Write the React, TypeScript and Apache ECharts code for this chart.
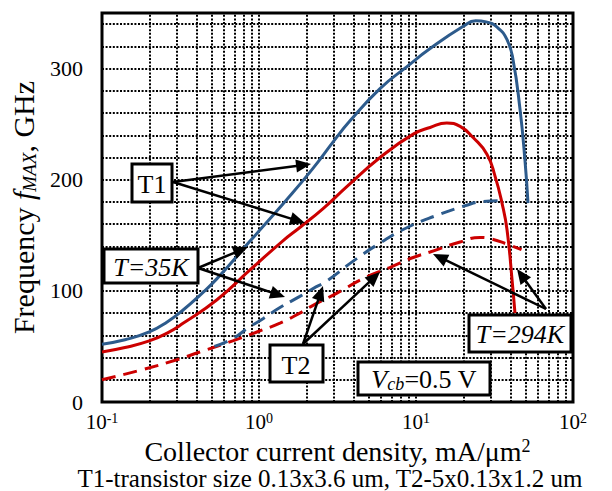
import React, { useEffect, useRef } from 'react';
import * as echarts from 'echarts';

// T1, T = 35 K (blue solid)
const t1Cold: [number, number][] = [
  [0.1, 52], [0.14, 56], [0.2, 63], [0.26, 72], [0.33, 83], [0.42, 96], [0.54, 111],
  [0.88, 145], [1.5, 182], [2.2, 210], [3.0, 235], [3.8, 253], [5.9, 282], [8.8, 302],
  [12.3, 318], [20, 338], [24, 343], [28, 342], [33, 337], [38, 326], [41.5, 308],
  [46, 263], [49.4, 218], [51.7, 179],
];
// T1, T = 294 K (red solid)
const t1Hot: [number, number][] = [
  [0.1, 45], [0.14, 49], [0.2, 55], [0.26, 62], [0.33, 71], [0.54, 92], [0.88, 119],
  [1.42, 145], [1.82, 157], [2.56, 174], [3.64, 194], [5.9, 220], [9.6, 241], [12.3, 247],
  [15.7, 251], [19.1, 248], [23.1, 238], [28.3, 223], [31.9, 203], [35.3, 179], [38, 155],
  [40.9, 110], [42.7, 80],
];
// T2, T = 35 K (blue dashed)
const t2Cold: [number, number][] = [
  [0.52, 50], [0.68, 57], [0.84, 66], [1.06, 75], [1.36, 85], [1.82, 95], [2.21, 102],
  [2.71, 109], [4.0, 127], [5.9, 143], [8.8, 157], [13.6, 168], [21, 177], [25.6, 180], [34, 181],
];
// T2, T = 294 K (red dashed)
const t2Hot: [number, number][] = [
  [0.1, 20], [0.18, 29], [0.3, 38], [0.42, 45], [0.68, 55], [0.97, 63], [1.36, 71],
  [1.82, 80], [2.21, 87], [3.14, 98], [4.6, 111], [6.8, 121], [9.6, 130], [12.3, 135],
  [19.1, 144], [25.6, 148], [29.6, 147], [38, 142], [47, 137],
];

const xGridValues = [
  0.2, 0.3, 0.4, 0.5, 0.6, 0.7, 0.8, 0.9, 1, 2, 3, 4, 5, 6, 7, 8, 9, 10,
  20, 30, 40, 50, 60, 70, 80, 90,
];
const yLabelValues = [0, 100, 200, 300];

const FONT = '"Liberation Serif", "Times New Roman", "DejaVu Serif", serif';
const BLUE = '#2d5b8c';
const RED = '#cc0000';

function arrow(x1: number, y1: number, x2: number, y2: number) {
  const dx = x2 - x1, dy = y2 - y1;
  const L = Math.hypot(dx, dy);
  const ux = dx / L, uy = dy / L;
  const hl = 15, hw = 6.5;
  const bx = x2 - ux * hl, by = y2 - uy * hl;
  return [
    { type: 'line', z: 20, shape: { x1, y1, x2: bx + ux * 2, y2: by + uy * 2 }, style: { stroke: '#000', lineWidth: 2.5 } },
    {
      type: 'polygon', z: 20,
      shape: { points: [[x2, y2], [bx - uy * hw, by + ux * hw], [bx + uy * hw, by - ux * hw]] },
      style: { fill: '#000' },
    },
  ];
}

function box(x: number, y: number, w: number, h: number) {
  return { type: 'rect', z: 21, shape: { x, y, width: w, height: h }, style: { fill: '#fff', stroke: '#000', lineWidth: 3 } };
}

function label(x: number, y: number, text: string, italic = false, rich?: any) {
  return {
    type: 'text', z: 22, x, y,
    style: {
      text, fontFamily: FONT, fontSize: 26, fill: '#000', fontStyle: italic ? 'italic' : 'normal',
      align: 'center', verticalAlign: 'middle', rich,
    },
  };
}

export default function App() {
  const ref = useRef<HTMLDivElement>(null);
  useEffect(() => {
    const chart = echarts.init(ref.current as HTMLDivElement, null, { renderer: 'svg' });
    const lineSeries = (data: [number, number][], color: string, dashed: boolean) => ({
      type: 'line', data, showSymbol: false, symbol: 'none', smooth: 0.5, z: 5,
      lineStyle: { color, width: 3, type: dashed ? [14, 8] : 'solid' },
    });
    chart.setOption({
      animation: false,
      backgroundColor: '#fff',
      textStyle: { fontFamily: FONT },
      grid: {
        left: 102, right: 39, top: 13, bottom: 89, show: true,
        borderColor: '#000', borderWidth: 3, backgroundColor: 'transparent',
        outerBoundsMode: 'none',
      },
      xAxis: {
        type: 'log', min: 0.1, max: 100, logBase: 10,
        axisLine: { show: false }, axisTick: { show: false }, splitLine: { show: false },
        name: 'Collector current density, mA/μm{sup|2}',
        nameLocation: 'middle', nameGap: 26,
        nameTextStyle: {
          fontFamily: FONT, fontSize: 28, color: '#000', lineHeight: 28,
          rich: { sup: { fontFamily: FONT, fontSize: 18, color: '#000', lineHeight: 18, verticalAlign: 'top' } },
        },
        axisLabel: {
          margin: 9,
          formatter: (v: number) => `{b|10}{s|${Math.round(Math.log10(v))}}`,
          rich: {
            b: { fontFamily: FONT, fontSize: 21, lineHeight: 22, color: '#000' },
            s: { fontFamily: FONT, fontSize: 14, lineHeight: 14, color: '#000', verticalAlign: 'top' },
          },
        },
      },
      yAxis: {
        type: 'value', min: 0, max: 350, interval: 20,
        axisLine: { show: false }, axisTick: { show: false },
        splitLine: { show: true, lineStyle: { color: '#000', width: 2, type: [2, 1.6] } },
        axisLabel: {
          margin: 19, fontFamily: FONT, fontSize: 22, color: '#000',
          formatter: (v: number) => (yLabelValues.indexOf(v) >= 0 ? String(v) : ''),
        },
        name: 'Frequency {i|f}{sub|MAX}, GHz',
        nameLocation: 'middle', nameGap: 61,
        nameTextStyle: {
          fontFamily: FONT, fontSize: 30, color: '#000',
          rich: {
            i: { fontFamily: FONT, fontSize: 30, fontStyle: 'italic', color: '#000' },
            sub: { fontFamily: FONT, fontSize: 19, fontStyle: 'italic', color: '#000', padding: [12, 0, 0, 0] },
          },
        },
      },
      series: [
        {
          type: 'line', data: [], z: 1, silent: true,
          markLine: {
            silent: true, symbol: 'none', label: { show: false },
            lineStyle: { color: '#000', width: 2, type: [2, 1.6] },
            data: xGridValues.map((v) => ({ xAxis: v })),
          },
        },
        lineSeries(t2Hot, RED, true),
        lineSeries(t2Cold, BLUE, true),
        lineSeries(t1Hot, RED, false),
        lineSeries(t1Cold, BLUE, false),
      ],
      graphic: [
        ...arrow(173, 182, 311, 164),
        ...arrow(173, 182, 305, 223),
        ...arrow(198, 268, 248, 247),
        ...arrow(198, 268, 285, 297),
        ...arrow(303, 344, 323, 286),
        ...arrow(303, 344, 380, 272),
        ...arrow(546, 309, 433, 254),
        ...arrow(546, 309, 517, 269),
        box(132, 164, 40, 38), label(152, 184, 'T1'),
        box(104, 249, 94, 34), label(151, 267, 'T=35K', true),
        box(270, 345, 53, 37), label(296, 365, 'T2'),
        box(469, 315, 102, 37), label(520, 334, 'T=294K', true),
        box(358, 362, 132, 33),
        label(424, 379, '{v|V}{s|cb}=0.5 V', false, {
          v: { fontFamily: FONT, fontSize: 26, fontStyle: 'italic', fill: '#000' },
          s: { fontFamily: FONT, fontSize: 18, fontStyle: 'italic', fill: '#000', padding: [10, 0, 0, 0] },
        }),
        {
          type: 'text', z: 22, x: 330, y: 478,
          style: {
            text: 'T1-transistor size 0.13x3.6 um, T2-5x0.13x1.2 um',
            fontFamily: FONT, fontSize: 25, lineHeight: 24, fill: '#000', align: 'center', verticalAlign: 'middle',
          },
        },
      ],
    });
    return () => chart.dispose();
  }, []);
  return (
    <div
      ref={ref}
      style={{ position: 'fixed', left: 0, top: 0, width: 612, height: 491, background: '#fff' }}
    />
  );
}
